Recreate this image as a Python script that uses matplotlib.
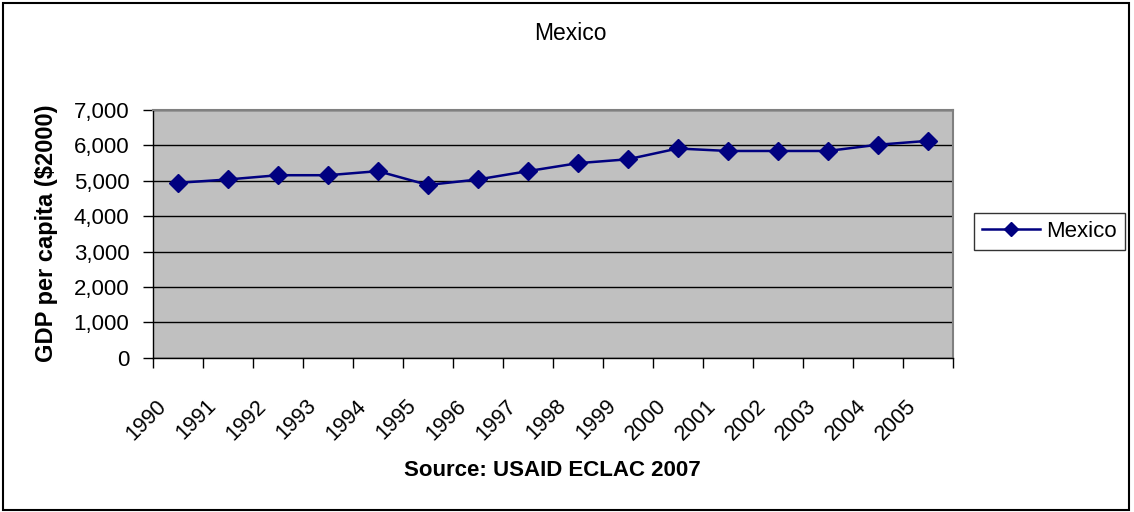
import matplotlib
matplotlib.use("Agg")
import matplotlib.pyplot as plt
from matplotlib.patches import Rectangle
from matplotlib.ticker import FuncFormatter
from matplotlib.transforms import ScaledTranslation
import numpy as np

plt.rcParams['font.family'] = ['Liberation Sans', 'DejaVu Sans']

years = ['1990', '1991', '1992', '1993', '1994', '1995', '1996', '1997',
         '1998', '1999', '2000', '2001', '2002', '2003', '2004', '2005']
gdp = [4945, 5040, 5160, 5160, 5275, 4885, 5040, 5275,
       5500, 5610, 5915, 5845, 5845, 5845, 6020, 6130]
yticks = [0, 1000, 2000, 3000, 4000, 5000, 6000, 7000]
series_name = 'Mexico'

fig = plt.figure(figsize=(11.34, 5.12), dpi=100)
fig.patches.append(Rectangle((0.003, 0.004), 0.993, 0.99, transform=fig.transFigure,
                             fill=False, edgecolor='black', linewidth=1.5))
ax = fig.add_axes([0.135, 0.301, 0.705, 0.484])
ax.set_facecolor('#C0C0C0')

x = np.arange(len(years)) + 0.5
ax.plot(x, gdp, color='#000080', linewidth=1.8, marker='D', markersize=9,
        label=series_name, zorder=3)

ax.set_xlim(0, len(years))
ax.set_ylim(0, 7000)
ax.set_yticks(yticks)
ax.yaxis.set_major_formatter(FuncFormatter(lambda v, p: f'{int(v):,}'))
ax.grid(axis='y', color='black', linewidth=1)
ax.set_axisbelow(True)

ax.set_xticks(np.arange(len(years) + 1))
ax.set_xticklabels([])
ax.set_xticks(x, minor=True)
ax.set_xticklabels(years, minor=True, rotation=45, ha='right', va='top',
                   rotation_mode='anchor', fontsize=15.5)
ax.tick_params(axis='x', which='minor', length=0, pad=12)
ax.tick_params(axis='x', which='major', length=7, direction='out', width=1)
ax.tick_params(axis='y', length=7, direction='out', labelsize=16, width=1, pad=10)
off = ScaledTranslation(-0.22, -0.21, fig.dpi_scale_trans)
for lab in ax.get_xticklabels(minor=True):
    lab.set_transform(lab.get_transform() + off)

for s in ['top', 'right']:
    ax.spines[s].set_color('#808080')
    ax.spines[s].set_linewidth(1.5)
for s in ['left', 'bottom']:
    ax.spines[s].set_color('black')
    ax.spines[s].set_linewidth(1)

fig.text(0.041, 0.545, 'GDP per capita ($2000)', rotation=90, ha='center', va='center',
         fontsize=17, fontweight='bold')
fig.text(0.487, 0.082, 'Source: USAID ECLAC 2007', ha='center', va='center',
         fontsize=16, fontweight='bold')
fig.text(0.503, 0.934, 'Mexico', ha='center', va='center', fontsize=16.5)

leg = fig.legend(loc='center left', bbox_to_anchor=(0.859, 0.548), fontsize=16,
                 frameon=True, fancybox=False, edgecolor='black',
                 handlelength=2.6, handletextpad=0.3, borderpad=0.35,
                 borderaxespad=0, markerscale=0.8)
leg.get_frame().set_linewidth(1)

fig.savefig('out.png', dpi=100)
